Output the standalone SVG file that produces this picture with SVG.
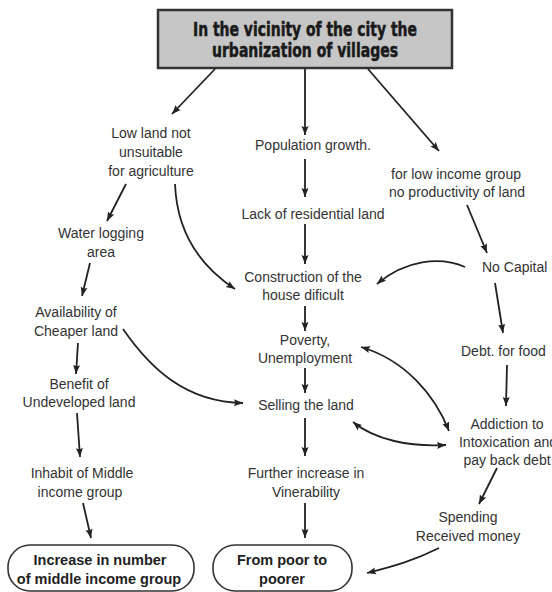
<svg xmlns="http://www.w3.org/2000/svg" width="552" height="592" viewBox="0 0 552 592">
  <style>
    .lbl { font-family: "Liberation Sans", Arial, sans-serif; font-size: 14px; fill: #333; text-anchor: middle; }
    .end { font-family: "Liberation Sans", Arial, sans-serif; font-size: 14.5px; font-weight: bold; fill: #222; text-anchor: middle; }
    .ttl { font-family: "DejaVu Sans Condensed", "DejaVu Sans", sans-serif; font-size: 19px; font-weight: bold; fill: #1a1a1a; stroke: #1a1a1a; stroke-width: 0.5; text-anchor: middle; }
    .wire { fill: none; stroke: #222; stroke-width: 1.8; marker-end: url(#head); }
    .both { marker-start: url(#head); }
    .pill { fill: #fff; stroke: #333; stroke-width: 1.6; }
  </style>
  <defs>
    <marker id="head" markerUnits="userSpaceOnUse" markerWidth="10" markerHeight="8" refX="9" refY="4" orient="auto-start-reverse">
      <path d="M0,0.5 L9,4 L0,7.5 L1.5,4 z" fill="#222"/>
    </marker>
  </defs>
  <rect width="552" height="592" fill="#fff"/>

  <!-- title -->
  <g id="title">
    <rect x="158" y="10" width="294" height="58" fill="#c6c6c6" stroke="#333" stroke-width="2.5"/>
    <text class="ttl" x="305" y="36" textLength="224" lengthAdjust="spacingAndGlyphs">In the vicinity of the city the</text>
    <text class="ttl" x="305" y="57" textLength="186" lengthAdjust="spacingAndGlyphs">urbanization of villages</text>
  </g>

  <!-- left branch -->
  <g id="lowland">
    <text class="lbl" x="151" y="138">Low land not</text>
    <text class="lbl" x="151" y="157">unsuitable</text>
    <text class="lbl" x="151" y="176">for agriculture</text>
  </g>
  <g id="waterlogging">
    <text class="lbl" x="101" y="238">Water logging</text>
    <text class="lbl" x="101" y="257">area</text>
  </g>
  <g id="cheaper">
    <text class="lbl" x="76" y="317">Availability of</text>
    <text class="lbl" x="76" y="336">Cheaper land</text>
  </g>
  <g id="benefit">
    <text class="lbl" x="79" y="389">Benefit of</text>
    <text class="lbl" x="79" y="407">Undeveloped land</text>
  </g>
  <g id="inhabit">
    <text class="lbl" x="82" y="478">Inhabit of Middle</text>
    <text class="lbl" x="80" y="497">income group</text>
  </g>
  <g id="middleclass">
    <rect class="pill" x="8" y="545" width="186" height="46" rx="22"/>
    <text class="end" x="100" y="565">Increase in number</text>
    <text class="end" x="99" y="584">of middle income group</text>
  </g>

  <!-- middle branch -->
  <g id="population">
    <text class="lbl" x="313" y="150">Population growth.</text>
  </g>
  <g id="residential">
    <text class="lbl" x="313" y="219">Lack of residential land</text>
  </g>
  <g id="construction">
    <text class="lbl" x="303" y="282">Construction of the</text>
    <text class="lbl" x="303" y="300">house dificult</text>
  </g>
  <g id="poverty">
    <text class="lbl" x="305" y="345">Poverty,</text>
    <text class="lbl" x="305" y="363">Unemployment</text>
  </g>
  <g id="selling">
    <text class="lbl" x="306" y="410">Selling the land</text>
  </g>
  <g id="vulnerability">
    <text class="lbl" x="306" y="478">Further increase in</text>
    <text class="lbl" x="306" y="497">Vinerability</text>
  </g>
  <g id="poorer">
    <rect class="pill" x="213" y="545" width="139" height="46" rx="22"/>
    <text class="end" x="282" y="565">From poor to</text>
    <text class="end" x="282" y="584">poorer</text>
  </g>

  <!-- right branch (the right column runs up to the page edge) -->
  <g id="lowincome">
    <text class="lbl" x="456" y="179">for low income group</text>
    <text class="lbl" x="457" y="197">no productivity of  land</text>
  </g>
  <g id="nocapital">
    <text class="lbl" x="482" y="272" style="text-anchor:start">No Capital</text>
  </g>
  <g id="debt">
    <text class="lbl" x="461" y="356" style="text-anchor:start">Debt. for food</text>
  </g>
  <g id="addiction">
    <text class="lbl" x="507" y="429">Addiction to</text>
    <text class="lbl" x="508" y="447">Intoxication and</text>
    <text class="lbl" x="507" y="465">pay back debt</text>
  </g>
  <g id="spending">
    <text class="lbl" x="468" y="522">Spending</text>
    <text class="lbl" x="468" y="541">Received money</text>
  </g>

  <!-- connectors -->
  <g id="connectors">
    <path class="wire" d="M215,69 L172,114"/>
    <path class="wire" d="M305,69 L305,135"/>
    <path class="wire" d="M368,69 L439,151"/>

    <path class="wire" d="M126,184 L107,221"/>
    <path class="wire" d="M175,184 C177,235 203,268 235,289"/>
    <path class="wire" d="M90,263 L82,296"/>
    <path class="wire" d="M78,343 L76,374"/>
    <path class="wire" d="M123,329 C150,368 185,402 243,403"/>
    <path class="wire" d="M77,413 L80,457"/>
    <path class="wire" d="M83,503 L91,538"/>

    <path class="wire" d="M305,159 L305,197"/>
    <path class="wire" d="M305,224 L305,264"/>
    <path class="wire" d="M305,306 L305,331"/>
    <path class="wire" d="M305,368 L305,393"/>
    <path class="wire" d="M305,418 L305,456"/>
    <path class="wire" d="M305,503 L305,538"/>

    <path class="wire" d="M467,205 L487,253"/>
    <path class="wire" d="M465,267 C440,256 405,260 377,284"/>
    <path class="wire" d="M495,283 L503,333"/>
    <path class="wire" d="M507,365 L506,406"/>
    <path class="wire both" d="M361,347 C405,360 435,395 449,431"/>
    <path class="wire both" d="M353,422 C375,440 410,447 446,445"/>
    <path class="wire" d="M497,468 L479,504"/>
    <path class="wire" d="M439,548 C415,560 395,566 367,573"/>
  </g>
</svg>
